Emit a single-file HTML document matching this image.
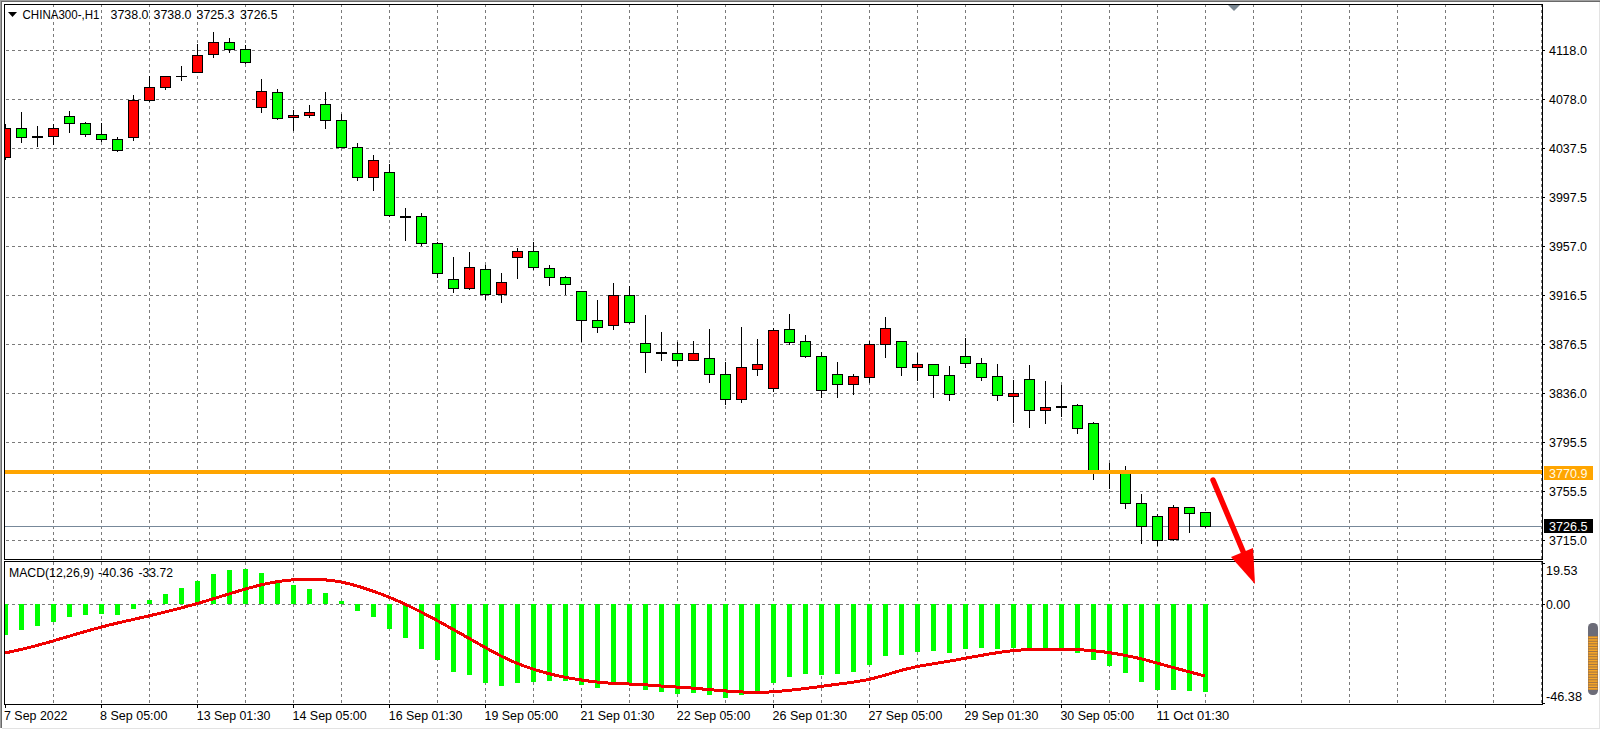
<!DOCTYPE html>
<html><head><meta charset="utf-8"><style>
html,body{margin:0;padding:0;background:#fff;}
body{width:1601px;height:730px;position:relative;overflow:hidden;font-family:"Liberation Sans", sans-serif;}
</style></head><body>
<svg width="1601" height="730" viewBox="0 0 1601 730" style="position:absolute;left:0;top:0">
<rect x="0" y="0" width="1601" height="730" fill="#ffffff"/>
<rect x="0" y="0" width="1600" height="1" fill="#a0a0a0"/>
<rect x="0" y="0" width="1" height="728" fill="#a0a0a0"/>
<rect x="1" y="1" width="1599" height="1" fill="#696969"/>
<rect x="1" y="1" width="1" height="727" fill="#696969"/>
<rect x="2" y="728" width="1598" height="1" fill="#e3e3e3"/>
<rect x="1599" y="2" width="1" height="727" fill="#e3e3e3"/>
<g shape-rendering="crispEdges">
<line x1="53.5" y1="4" x2="53.5" y2="559" stroke="#7a7a7a" stroke-dasharray="3 3"/>
<line x1="53.5" y1="562" x2="53.5" y2="703" stroke="#7a7a7a" stroke-dasharray="3 3"/>
<line x1="101.5" y1="4" x2="101.5" y2="559" stroke="#7a7a7a" stroke-dasharray="3 3"/>
<line x1="101.5" y1="562" x2="101.5" y2="703" stroke="#7a7a7a" stroke-dasharray="3 3"/>
<line x1="149.5" y1="4" x2="149.5" y2="559" stroke="#7a7a7a" stroke-dasharray="3 3"/>
<line x1="149.5" y1="562" x2="149.5" y2="703" stroke="#7a7a7a" stroke-dasharray="3 3"/>
<line x1="197.5" y1="4" x2="197.5" y2="559" stroke="#7a7a7a" stroke-dasharray="3 3"/>
<line x1="197.5" y1="562" x2="197.5" y2="703" stroke="#7a7a7a" stroke-dasharray="3 3"/>
<line x1="245.5" y1="4" x2="245.5" y2="559" stroke="#7a7a7a" stroke-dasharray="3 3"/>
<line x1="245.5" y1="562" x2="245.5" y2="703" stroke="#7a7a7a" stroke-dasharray="3 3"/>
<line x1="293.5" y1="4" x2="293.5" y2="559" stroke="#7a7a7a" stroke-dasharray="3 3"/>
<line x1="293.5" y1="562" x2="293.5" y2="703" stroke="#7a7a7a" stroke-dasharray="3 3"/>
<line x1="341.5" y1="4" x2="341.5" y2="559" stroke="#7a7a7a" stroke-dasharray="3 3"/>
<line x1="341.5" y1="562" x2="341.5" y2="703" stroke="#7a7a7a" stroke-dasharray="3 3"/>
<line x1="389.5" y1="4" x2="389.5" y2="559" stroke="#7a7a7a" stroke-dasharray="3 3"/>
<line x1="389.5" y1="562" x2="389.5" y2="703" stroke="#7a7a7a" stroke-dasharray="3 3"/>
<line x1="437.5" y1="4" x2="437.5" y2="559" stroke="#7a7a7a" stroke-dasharray="3 3"/>
<line x1="437.5" y1="562" x2="437.5" y2="703" stroke="#7a7a7a" stroke-dasharray="3 3"/>
<line x1="485.5" y1="4" x2="485.5" y2="559" stroke="#7a7a7a" stroke-dasharray="3 3"/>
<line x1="485.5" y1="562" x2="485.5" y2="703" stroke="#7a7a7a" stroke-dasharray="3 3"/>
<line x1="533.5" y1="4" x2="533.5" y2="559" stroke="#7a7a7a" stroke-dasharray="3 3"/>
<line x1="533.5" y1="562" x2="533.5" y2="703" stroke="#7a7a7a" stroke-dasharray="3 3"/>
<line x1="581.5" y1="4" x2="581.5" y2="559" stroke="#7a7a7a" stroke-dasharray="3 3"/>
<line x1="581.5" y1="562" x2="581.5" y2="703" stroke="#7a7a7a" stroke-dasharray="3 3"/>
<line x1="629.5" y1="4" x2="629.5" y2="559" stroke="#7a7a7a" stroke-dasharray="3 3"/>
<line x1="629.5" y1="562" x2="629.5" y2="703" stroke="#7a7a7a" stroke-dasharray="3 3"/>
<line x1="677.5" y1="4" x2="677.5" y2="559" stroke="#7a7a7a" stroke-dasharray="3 3"/>
<line x1="677.5" y1="562" x2="677.5" y2="703" stroke="#7a7a7a" stroke-dasharray="3 3"/>
<line x1="725.5" y1="4" x2="725.5" y2="559" stroke="#7a7a7a" stroke-dasharray="3 3"/>
<line x1="725.5" y1="562" x2="725.5" y2="703" stroke="#7a7a7a" stroke-dasharray="3 3"/>
<line x1="773.5" y1="4" x2="773.5" y2="559" stroke="#7a7a7a" stroke-dasharray="3 3"/>
<line x1="773.5" y1="562" x2="773.5" y2="703" stroke="#7a7a7a" stroke-dasharray="3 3"/>
<line x1="821.5" y1="4" x2="821.5" y2="559" stroke="#7a7a7a" stroke-dasharray="3 3"/>
<line x1="821.5" y1="562" x2="821.5" y2="703" stroke="#7a7a7a" stroke-dasharray="3 3"/>
<line x1="869.5" y1="4" x2="869.5" y2="559" stroke="#7a7a7a" stroke-dasharray="3 3"/>
<line x1="869.5" y1="562" x2="869.5" y2="703" stroke="#7a7a7a" stroke-dasharray="3 3"/>
<line x1="917.5" y1="4" x2="917.5" y2="559" stroke="#7a7a7a" stroke-dasharray="3 3"/>
<line x1="917.5" y1="562" x2="917.5" y2="703" stroke="#7a7a7a" stroke-dasharray="3 3"/>
<line x1="965.5" y1="4" x2="965.5" y2="559" stroke="#7a7a7a" stroke-dasharray="3 3"/>
<line x1="965.5" y1="562" x2="965.5" y2="703" stroke="#7a7a7a" stroke-dasharray="3 3"/>
<line x1="1013.5" y1="4" x2="1013.5" y2="559" stroke="#7a7a7a" stroke-dasharray="3 3"/>
<line x1="1013.5" y1="562" x2="1013.5" y2="703" stroke="#7a7a7a" stroke-dasharray="3 3"/>
<line x1="1061.5" y1="4" x2="1061.5" y2="559" stroke="#7a7a7a" stroke-dasharray="3 3"/>
<line x1="1061.5" y1="562" x2="1061.5" y2="703" stroke="#7a7a7a" stroke-dasharray="3 3"/>
<line x1="1109.5" y1="4" x2="1109.5" y2="559" stroke="#7a7a7a" stroke-dasharray="3 3"/>
<line x1="1109.5" y1="562" x2="1109.5" y2="703" stroke="#7a7a7a" stroke-dasharray="3 3"/>
<line x1="1157.5" y1="4" x2="1157.5" y2="559" stroke="#7a7a7a" stroke-dasharray="3 3"/>
<line x1="1157.5" y1="562" x2="1157.5" y2="703" stroke="#7a7a7a" stroke-dasharray="3 3"/>
<line x1="1205.5" y1="4" x2="1205.5" y2="559" stroke="#7a7a7a" stroke-dasharray="3 3"/>
<line x1="1205.5" y1="562" x2="1205.5" y2="703" stroke="#7a7a7a" stroke-dasharray="3 3"/>
<line x1="1253.5" y1="4" x2="1253.5" y2="559" stroke="#7a7a7a" stroke-dasharray="3 3"/>
<line x1="1253.5" y1="562" x2="1253.5" y2="703" stroke="#7a7a7a" stroke-dasharray="3 3"/>
<line x1="1301.5" y1="4" x2="1301.5" y2="559" stroke="#7a7a7a" stroke-dasharray="3 3"/>
<line x1="1301.5" y1="562" x2="1301.5" y2="703" stroke="#7a7a7a" stroke-dasharray="3 3"/>
<line x1="1349.5" y1="4" x2="1349.5" y2="559" stroke="#7a7a7a" stroke-dasharray="3 3"/>
<line x1="1349.5" y1="562" x2="1349.5" y2="703" stroke="#7a7a7a" stroke-dasharray="3 3"/>
<line x1="1397.5" y1="4" x2="1397.5" y2="559" stroke="#7a7a7a" stroke-dasharray="3 3"/>
<line x1="1397.5" y1="562" x2="1397.5" y2="703" stroke="#7a7a7a" stroke-dasharray="3 3"/>
<line x1="1445.5" y1="4" x2="1445.5" y2="559" stroke="#7a7a7a" stroke-dasharray="3 3"/>
<line x1="1445.5" y1="562" x2="1445.5" y2="703" stroke="#7a7a7a" stroke-dasharray="3 3"/>
<line x1="1493.5" y1="4" x2="1493.5" y2="559" stroke="#7a7a7a" stroke-dasharray="3 3"/>
<line x1="1493.5" y1="562" x2="1493.5" y2="703" stroke="#7a7a7a" stroke-dasharray="3 3"/>
<line x1="1541.5" y1="4" x2="1541.5" y2="559" stroke="#7a7a7a" stroke-dasharray="3 3"/>
<line x1="1541.5" y1="562" x2="1541.5" y2="703" stroke="#7a7a7a" stroke-dasharray="3 3"/>
<line x1="6" y1="50.5" x2="1542" y2="50.5" stroke="#7a7a7a" stroke-dasharray="3 3"/>
<line x1="6" y1="99.5" x2="1542" y2="99.5" stroke="#7a7a7a" stroke-dasharray="3 3"/>
<line x1="6" y1="148.5" x2="1542" y2="148.5" stroke="#7a7a7a" stroke-dasharray="3 3"/>
<line x1="6" y1="197.5" x2="1542" y2="197.5" stroke="#7a7a7a" stroke-dasharray="3 3"/>
<line x1="6" y1="246.5" x2="1542" y2="246.5" stroke="#7a7a7a" stroke-dasharray="3 3"/>
<line x1="6" y1="295.5" x2="1542" y2="295.5" stroke="#7a7a7a" stroke-dasharray="3 3"/>
<line x1="6" y1="344.5" x2="1542" y2="344.5" stroke="#7a7a7a" stroke-dasharray="3 3"/>
<line x1="6" y1="393.5" x2="1542" y2="393.5" stroke="#7a7a7a" stroke-dasharray="3 3"/>
<line x1="6" y1="442.5" x2="1542" y2="442.5" stroke="#7a7a7a" stroke-dasharray="3 3"/>
<line x1="6" y1="491.5" x2="1542" y2="491.5" stroke="#7a7a7a" stroke-dasharray="3 3"/>
<line x1="6" y1="540.5" x2="1542" y2="540.5" stroke="#7a7a7a" stroke-dasharray="3 3"/>
<line x1="6" y1="604.5" x2="1542" y2="604.5" stroke="#7a7a7a" stroke-dasharray="3 3"/>
<g>
<rect x="5" y="604" width="3" height="31" fill="#00ff00"/>
<rect x="19" y="604" width="5" height="26" fill="#00ff00"/>
<rect x="35" y="604" width="5" height="22" fill="#00ff00"/>
<rect x="51" y="604" width="5" height="18" fill="#00ff00"/>
<rect x="67" y="604" width="5" height="13" fill="#00ff00"/>
<rect x="83" y="604" width="5" height="11" fill="#00ff00"/>
<rect x="99" y="604" width="5" height="10" fill="#00ff00"/>
<rect x="115" y="604" width="5" height="11" fill="#00ff00"/>
<rect x="131" y="604" width="5" height="5" fill="#00ff00"/>
<rect x="147" y="600" width="5" height="4" fill="#00ff00"/>
<rect x="163" y="594" width="5" height="10" fill="#00ff00"/>
<rect x="179" y="588" width="5" height="16" fill="#00ff00"/>
<rect x="195" y="581" width="5" height="23" fill="#00ff00"/>
<rect x="211" y="574" width="5" height="30" fill="#00ff00"/>
<rect x="227" y="570" width="5" height="34" fill="#00ff00"/>
<rect x="243" y="569" width="5" height="35" fill="#00ff00"/>
<rect x="259" y="573" width="5" height="31" fill="#00ff00"/>
<rect x="275" y="582" width="5" height="22" fill="#00ff00"/>
<rect x="291" y="585" width="5" height="19" fill="#00ff00"/>
<rect x="307" y="589" width="5" height="15" fill="#00ff00"/>
<rect x="323" y="593" width="5" height="11" fill="#00ff00"/>
<rect x="339" y="601" width="5" height="3" fill="#00ff00"/>
<rect x="355" y="604" width="5" height="7" fill="#00ff00"/>
<rect x="371" y="604" width="5" height="13" fill="#00ff00"/>
<rect x="387" y="604" width="5" height="25" fill="#00ff00"/>
<rect x="403" y="604" width="5" height="34" fill="#00ff00"/>
<rect x="419" y="604" width="5" height="45" fill="#00ff00"/>
<rect x="435" y="604" width="5" height="56" fill="#00ff00"/>
<rect x="451" y="604" width="5" height="68" fill="#00ff00"/>
<rect x="467" y="604" width="5" height="71" fill="#00ff00"/>
<rect x="483" y="604" width="5" height="79" fill="#00ff00"/>
<rect x="499" y="604" width="5" height="82" fill="#00ff00"/>
<rect x="515" y="604" width="5" height="79" fill="#00ff00"/>
<rect x="531" y="604" width="5" height="78" fill="#00ff00"/>
<rect x="547" y="604" width="5" height="77" fill="#00ff00"/>
<rect x="563" y="604" width="5" height="77" fill="#00ff00"/>
<rect x="579" y="604" width="5" height="81" fill="#00ff00"/>
<rect x="595" y="604" width="5" height="84" fill="#00ff00"/>
<rect x="611" y="604" width="5" height="81" fill="#00ff00"/>
<rect x="627" y="604" width="5" height="81" fill="#00ff00"/>
<rect x="643" y="604" width="5" height="86" fill="#00ff00"/>
<rect x="659" y="604" width="5" height="88" fill="#00ff00"/>
<rect x="675" y="604" width="5" height="90" fill="#00ff00"/>
<rect x="691" y="604" width="5" height="89" fill="#00ff00"/>
<rect x="707" y="604" width="5" height="91" fill="#00ff00"/>
<rect x="723" y="604" width="5" height="94" fill="#00ff00"/>
<rect x="739" y="604" width="5" height="91" fill="#00ff00"/>
<rect x="755" y="604" width="5" height="87" fill="#00ff00"/>
<rect x="771" y="604" width="5" height="79" fill="#00ff00"/>
<rect x="787" y="604" width="5" height="73" fill="#00ff00"/>
<rect x="803" y="604" width="5" height="70" fill="#00ff00"/>
<rect x="819" y="604" width="5" height="71" fill="#00ff00"/>
<rect x="835" y="604" width="5" height="70" fill="#00ff00"/>
<rect x="851" y="604" width="5" height="68" fill="#00ff00"/>
<rect x="867" y="604" width="5" height="61" fill="#00ff00"/>
<rect x="883" y="604" width="5" height="52" fill="#00ff00"/>
<rect x="899" y="604" width="5" height="51" fill="#00ff00"/>
<rect x="915" y="604" width="5" height="48" fill="#00ff00"/>
<rect x="931" y="604" width="5" height="47" fill="#00ff00"/>
<rect x="947" y="604" width="5" height="49" fill="#00ff00"/>
<rect x="963" y="604" width="5" height="45" fill="#00ff00"/>
<rect x="979" y="604" width="5" height="44" fill="#00ff00"/>
<rect x="995" y="604" width="5" height="45" fill="#00ff00"/>
<rect x="1011" y="604" width="5" height="44" fill="#00ff00"/>
<rect x="1027" y="604" width="5" height="45" fill="#00ff00"/>
<rect x="1043" y="604" width="5" height="44" fill="#00ff00"/>
<rect x="1059" y="604" width="5" height="44" fill="#00ff00"/>
<rect x="1075" y="604" width="5" height="49" fill="#00ff00"/>
<rect x="1091" y="604" width="5" height="56" fill="#00ff00"/>
<rect x="1107" y="604" width="5" height="62" fill="#00ff00"/>
<rect x="1123" y="604" width="5" height="69" fill="#00ff00"/>
<rect x="1139" y="604" width="5" height="78" fill="#00ff00"/>
<rect x="1155" y="604" width="5" height="86" fill="#00ff00"/>
<rect x="1171" y="604" width="5" height="86" fill="#00ff00"/>
<rect x="1187" y="604" width="5" height="87" fill="#00ff00"/>
<rect x="1203" y="604" width="5" height="88" fill="#00ff00"/>
</g>
</g>
<path d="M5,653.00 C7.67,652.41 15.67,650.71 21,649.45 C26.33,648.19 31.67,646.87 37,645.45 C42.33,644.03 47.67,642.49 53,640.95 C58.33,639.41 63.67,637.79 69,636.23 C74.33,634.66 79.67,633.07 85,631.55 C90.33,630.03 95.67,628.53 101,627.12 C106.33,625.72 111.67,624.40 117,623.12 C122.33,621.85 127.67,620.71 133,619.50 C138.33,618.29 143.67,617.12 149,615.88 C154.33,614.62 159.67,613.32 165,612.00 C170.33,610.68 175.67,609.35 181,607.95 C186.33,606.55 191.67,605.12 197,603.60 C202.33,602.08 207.67,600.46 213,598.85 C218.33,597.24 223.67,595.57 229,593.95 C234.33,592.33 239.67,590.66 245,589.15 C250.33,587.64 255.67,586.14 261,584.90 C266.33,583.66 271.67,582.57 277,581.73 C282.33,580.88 287.67,580.26 293,579.85 C298.33,579.44 303.67,579.25 309,579.25 C314.33,579.25 319.67,579.39 325,579.85 C330.33,580.31 335.67,580.98 341,582.00 C346.33,583.02 351.67,584.42 357,585.95 C362.33,587.48 367.67,589.30 373,591.17 C378.33,593.05 383.67,595.04 389,597.20 C394.33,599.36 399.67,601.68 405,604.15 C410.33,606.62 415.67,609.30 421,612.02 C426.33,614.75 431.67,617.60 437,620.47 C442.33,623.35 447.67,626.32 453,629.30 C458.33,632.27 463.67,635.31 469,638.32 C474.33,641.34 479.67,644.43 485,647.38 C490.33,650.32 495.67,653.33 501,655.97 C506.33,658.62 511.67,661.07 517,663.25 C522.33,665.43 527.67,667.29 533,669.03 C538.33,670.76 543.67,672.28 549,673.65 C554.33,675.02 559.67,676.17 565,677.23 C570.33,678.28 575.67,679.15 581,679.95 C586.33,680.75 591.67,681.48 597,682.05 C602.33,682.62 607.67,683.03 613,683.35 C618.33,683.68 623.67,683.75 629,684.00 C634.33,684.25 639.67,684.49 645,684.82 C650.33,685.16 655.67,685.63 661,686.00 C666.33,686.37 671.67,686.69 677,687.05 C682.33,687.41 687.67,687.75 693,688.17 C698.33,688.60 703.67,689.15 709,689.60 C714.33,690.05 719.67,690.51 725,690.90 C730.33,691.29 735.67,691.67 741,691.92 C746.33,692.17 751.67,692.42 757,692.40 C762.33,692.38 767.67,692.12 773,691.78 C778.33,691.43 783.67,690.89 789,690.35 C794.33,689.81 799.67,689.20 805,688.55 C810.33,687.90 815.67,687.14 821,686.42 C826.33,685.71 831.67,684.98 837,684.27 C842.33,683.57 847.67,682.99 853,682.17 C858.33,681.36 863.67,680.55 869,679.38 C874.33,678.20 879.67,676.62 885,675.12 C890.33,673.62 895.67,671.79 901,670.38 C906.33,668.96 911.67,667.73 917,666.65 C922.33,665.57 927.67,664.80 933,663.90 C938.33,663.00 943.67,662.16 949,661.22 C954.33,660.29 959.67,659.27 965,658.30 C970.33,657.33 975.67,656.35 981,655.42 C986.33,654.50 991.67,653.56 997,652.78 C1002.33,651.99 1007.67,651.23 1013,650.70 C1018.33,650.17 1023.67,649.84 1029,649.58 C1034.33,649.31 1039.67,649.20 1045,649.12 C1050.33,649.05 1055.67,649.05 1061,649.12 C1066.33,649.20 1071.67,649.35 1077,649.60 C1082.33,649.85 1087.67,650.15 1093,650.65 C1098.33,651.15 1103.67,651.84 1109,652.62 C1114.33,653.41 1119.67,654.35 1125,655.38 C1130.33,656.40 1135.67,657.52 1141,658.80 C1146.33,660.08 1151.67,661.60 1157,663.05 C1162.33,664.50 1167.67,666.04 1173,667.50 C1178.33,668.96 1183.67,670.38 1189,671.80 C1194.33,673.22 1202.33,675.30 1205,676.00" fill="none" stroke="#f00000" stroke-width="3" shape-rendering="crispEdges"/>
<rect x="5" y="526" width="1537" height="1" fill="#778899"/>
<g shape-rendering="crispEdges">
<rect x="5" y="124" width="1" height="36" fill="#000000"/>
<rect x="5" y="128" width="6" height="30" fill="#000000"/>
<rect x="5" y="129" width="5" height="28" fill="#ff0000"/>
<rect x="21" y="112" width="1" height="31" fill="#000000"/>
<rect x="16" y="128" width="11" height="10" fill="#000000"/>
<rect x="17" y="129" width="9" height="8" fill="#00ff00"/>
<rect x="37" y="126" width="1" height="21" fill="#000000"/>
<rect x="32" y="136" width="11" height="2" fill="#000000"/>
<rect x="53" y="124" width="1" height="21" fill="#000000"/>
<rect x="48" y="128" width="11" height="9" fill="#000000"/>
<rect x="49" y="129" width="9" height="7" fill="#ff0000"/>
<rect x="69" y="111" width="1" height="22" fill="#000000"/>
<rect x="64" y="116" width="11" height="8" fill="#000000"/>
<rect x="65" y="117" width="9" height="6" fill="#00ff00"/>
<rect x="85" y="122" width="1" height="15" fill="#000000"/>
<rect x="80" y="123" width="11" height="12" fill="#000000"/>
<rect x="81" y="124" width="9" height="10" fill="#00ff00"/>
<rect x="101" y="123" width="1" height="19" fill="#000000"/>
<rect x="96" y="134" width="11" height="6" fill="#000000"/>
<rect x="97" y="135" width="9" height="4" fill="#00ff00"/>
<rect x="117" y="137" width="1" height="15" fill="#000000"/>
<rect x="112" y="139" width="11" height="12" fill="#000000"/>
<rect x="113" y="140" width="9" height="10" fill="#00ff00"/>
<rect x="133" y="95" width="1" height="46" fill="#000000"/>
<rect x="128" y="100" width="11" height="38" fill="#000000"/>
<rect x="129" y="101" width="9" height="36" fill="#ff0000"/>
<rect x="149" y="76" width="1" height="26" fill="#000000"/>
<rect x="144" y="87" width="11" height="14" fill="#000000"/>
<rect x="145" y="88" width="9" height="12" fill="#ff0000"/>
<rect x="165" y="76" width="1" height="14" fill="#000000"/>
<rect x="160" y="76" width="11" height="12" fill="#000000"/>
<rect x="161" y="77" width="9" height="10" fill="#ff0000"/>
<rect x="181" y="66" width="1" height="15" fill="#000000"/>
<rect x="176" y="76" width="11" height="1" fill="#000000"/>
<rect x="197" y="44" width="1" height="29" fill="#000000"/>
<rect x="192" y="55" width="11" height="18" fill="#000000"/>
<rect x="193" y="56" width="9" height="16" fill="#ff0000"/>
<rect x="213" y="32" width="1" height="26" fill="#000000"/>
<rect x="208" y="42" width="11" height="13" fill="#000000"/>
<rect x="209" y="43" width="9" height="11" fill="#ff0000"/>
<rect x="229" y="38" width="1" height="15" fill="#000000"/>
<rect x="224" y="42" width="11" height="8" fill="#000000"/>
<rect x="225" y="43" width="9" height="6" fill="#00ff00"/>
<rect x="245" y="45" width="1" height="19" fill="#000000"/>
<rect x="240" y="49" width="11" height="14" fill="#000000"/>
<rect x="241" y="50" width="9" height="12" fill="#00ff00"/>
<rect x="261" y="79" width="1" height="34" fill="#000000"/>
<rect x="256" y="91" width="11" height="17" fill="#000000"/>
<rect x="257" y="92" width="9" height="15" fill="#ff0000"/>
<rect x="277" y="89" width="1" height="31" fill="#000000"/>
<rect x="272" y="92" width="11" height="27" fill="#000000"/>
<rect x="273" y="93" width="9" height="25" fill="#00ff00"/>
<rect x="293" y="110" width="1" height="21" fill="#000000"/>
<rect x="288" y="115" width="11" height="3" fill="#000000"/>
<rect x="289" y="116" width="9" height="1" fill="#ff0000"/>
<rect x="309" y="105" width="1" height="13" fill="#000000"/>
<rect x="304" y="112" width="11" height="4" fill="#000000"/>
<rect x="305" y="113" width="9" height="2" fill="#ff0000"/>
<rect x="325" y="92" width="1" height="37" fill="#000000"/>
<rect x="320" y="104" width="11" height="17" fill="#000000"/>
<rect x="321" y="105" width="9" height="15" fill="#00ff00"/>
<rect x="341" y="114" width="1" height="34" fill="#000000"/>
<rect x="336" y="120" width="11" height="28" fill="#000000"/>
<rect x="337" y="121" width="9" height="26" fill="#00ff00"/>
<rect x="357" y="143" width="1" height="38" fill="#000000"/>
<rect x="352" y="147" width="11" height="31" fill="#000000"/>
<rect x="353" y="148" width="9" height="29" fill="#00ff00"/>
<rect x="373" y="155" width="1" height="36" fill="#000000"/>
<rect x="368" y="160" width="11" height="18" fill="#000000"/>
<rect x="369" y="161" width="9" height="16" fill="#ff0000"/>
<rect x="389" y="164" width="1" height="53" fill="#000000"/>
<rect x="384" y="172" width="11" height="44" fill="#000000"/>
<rect x="385" y="173" width="9" height="42" fill="#00ff00"/>
<rect x="405" y="208" width="1" height="33" fill="#000000"/>
<rect x="400" y="216" width="11" height="2" fill="#000000"/>
<rect x="421" y="213" width="1" height="33" fill="#000000"/>
<rect x="416" y="216" width="11" height="28" fill="#000000"/>
<rect x="417" y="217" width="9" height="26" fill="#00ff00"/>
<rect x="437" y="242" width="1" height="36" fill="#000000"/>
<rect x="432" y="243" width="11" height="31" fill="#000000"/>
<rect x="433" y="244" width="9" height="29" fill="#00ff00"/>
<rect x="453" y="257" width="1" height="36" fill="#000000"/>
<rect x="448" y="279" width="11" height="10" fill="#000000"/>
<rect x="449" y="280" width="9" height="8" fill="#00ff00"/>
<rect x="469" y="252" width="1" height="38" fill="#000000"/>
<rect x="464" y="267" width="11" height="22" fill="#000000"/>
<rect x="465" y="268" width="9" height="20" fill="#ff0000"/>
<rect x="485" y="265" width="1" height="35" fill="#000000"/>
<rect x="480" y="269" width="11" height="26" fill="#000000"/>
<rect x="481" y="270" width="9" height="24" fill="#00ff00"/>
<rect x="501" y="273" width="1" height="30" fill="#000000"/>
<rect x="496" y="282" width="11" height="13" fill="#000000"/>
<rect x="497" y="283" width="9" height="11" fill="#ff0000"/>
<rect x="517" y="248" width="1" height="31" fill="#000000"/>
<rect x="512" y="251" width="11" height="7" fill="#000000"/>
<rect x="513" y="252" width="9" height="5" fill="#ff0000"/>
<rect x="533" y="242" width="1" height="28" fill="#000000"/>
<rect x="528" y="251" width="11" height="17" fill="#000000"/>
<rect x="529" y="252" width="9" height="15" fill="#00ff00"/>
<rect x="549" y="265" width="1" height="21" fill="#000000"/>
<rect x="544" y="268" width="11" height="10" fill="#000000"/>
<rect x="545" y="269" width="9" height="8" fill="#00ff00"/>
<rect x="565" y="276" width="1" height="19" fill="#000000"/>
<rect x="560" y="277" width="11" height="8" fill="#000000"/>
<rect x="561" y="278" width="9" height="6" fill="#00ff00"/>
<rect x="581" y="291" width="1" height="51" fill="#000000"/>
<rect x="576" y="291" width="11" height="30" fill="#000000"/>
<rect x="577" y="292" width="9" height="28" fill="#00ff00"/>
<rect x="597" y="300" width="1" height="33" fill="#000000"/>
<rect x="592" y="320" width="11" height="8" fill="#000000"/>
<rect x="593" y="321" width="9" height="6" fill="#00ff00"/>
<rect x="613" y="283" width="1" height="47" fill="#000000"/>
<rect x="608" y="295" width="11" height="31" fill="#000000"/>
<rect x="609" y="296" width="9" height="29" fill="#ff0000"/>
<rect x="629" y="286" width="1" height="38" fill="#000000"/>
<rect x="624" y="295" width="11" height="28" fill="#000000"/>
<rect x="625" y="296" width="9" height="26" fill="#00ff00"/>
<rect x="645" y="315" width="1" height="58" fill="#000000"/>
<rect x="640" y="343" width="11" height="10" fill="#000000"/>
<rect x="641" y="344" width="9" height="8" fill="#00ff00"/>
<rect x="661" y="332" width="1" height="29" fill="#000000"/>
<rect x="656" y="352" width="11" height="2" fill="#000000"/>
<rect x="677" y="342" width="1" height="24" fill="#000000"/>
<rect x="672" y="353" width="11" height="8" fill="#000000"/>
<rect x="673" y="354" width="9" height="6" fill="#00ff00"/>
<rect x="693" y="341" width="1" height="20" fill="#000000"/>
<rect x="688" y="353" width="11" height="8" fill="#000000"/>
<rect x="689" y="354" width="9" height="6" fill="#ff0000"/>
<rect x="709" y="329" width="1" height="54" fill="#000000"/>
<rect x="704" y="358" width="11" height="17" fill="#000000"/>
<rect x="705" y="359" width="9" height="15" fill="#00ff00"/>
<rect x="725" y="362" width="1" height="43" fill="#000000"/>
<rect x="720" y="374" width="11" height="26" fill="#000000"/>
<rect x="721" y="375" width="9" height="24" fill="#00ff00"/>
<rect x="741" y="327" width="1" height="76" fill="#000000"/>
<rect x="736" y="367" width="11" height="33" fill="#000000"/>
<rect x="737" y="368" width="9" height="31" fill="#ff0000"/>
<rect x="757" y="339" width="1" height="37" fill="#000000"/>
<rect x="752" y="364" width="11" height="6" fill="#000000"/>
<rect x="753" y="365" width="9" height="4" fill="#ff0000"/>
<rect x="773" y="328" width="1" height="64" fill="#000000"/>
<rect x="768" y="330" width="11" height="59" fill="#000000"/>
<rect x="769" y="331" width="9" height="57" fill="#ff0000"/>
<rect x="789" y="314" width="1" height="31" fill="#000000"/>
<rect x="784" y="329" width="11" height="14" fill="#000000"/>
<rect x="785" y="330" width="9" height="12" fill="#00ff00"/>
<rect x="805" y="335" width="1" height="23" fill="#000000"/>
<rect x="800" y="341" width="11" height="16" fill="#000000"/>
<rect x="801" y="342" width="9" height="14" fill="#00ff00"/>
<rect x="821" y="352" width="1" height="46" fill="#000000"/>
<rect x="816" y="356" width="11" height="35" fill="#000000"/>
<rect x="817" y="357" width="9" height="33" fill="#00ff00"/>
<rect x="837" y="362" width="1" height="36" fill="#000000"/>
<rect x="832" y="374" width="11" height="11" fill="#000000"/>
<rect x="833" y="375" width="9" height="9" fill="#00ff00"/>
<rect x="853" y="374" width="1" height="21" fill="#000000"/>
<rect x="848" y="376" width="11" height="9" fill="#000000"/>
<rect x="849" y="377" width="9" height="7" fill="#ff0000"/>
<rect x="869" y="341" width="1" height="42" fill="#000000"/>
<rect x="864" y="344" width="11" height="34" fill="#000000"/>
<rect x="865" y="345" width="9" height="32" fill="#ff0000"/>
<rect x="885" y="317" width="1" height="41" fill="#000000"/>
<rect x="880" y="328" width="11" height="17" fill="#000000"/>
<rect x="881" y="329" width="9" height="15" fill="#ff0000"/>
<rect x="901" y="341" width="1" height="35" fill="#000000"/>
<rect x="896" y="341" width="11" height="27" fill="#000000"/>
<rect x="897" y="342" width="9" height="25" fill="#00ff00"/>
<rect x="917" y="353" width="1" height="28" fill="#000000"/>
<rect x="912" y="364" width="11" height="4" fill="#000000"/>
<rect x="913" y="365" width="9" height="2" fill="#ff0000"/>
<rect x="933" y="364" width="1" height="34" fill="#000000"/>
<rect x="928" y="364" width="11" height="12" fill="#000000"/>
<rect x="929" y="365" width="9" height="10" fill="#00ff00"/>
<rect x="949" y="366" width="1" height="35" fill="#000000"/>
<rect x="944" y="375" width="11" height="20" fill="#000000"/>
<rect x="945" y="376" width="9" height="18" fill="#00ff00"/>
<rect x="965" y="338" width="1" height="30" fill="#000000"/>
<rect x="960" y="356" width="11" height="8" fill="#000000"/>
<rect x="961" y="357" width="9" height="6" fill="#00ff00"/>
<rect x="981" y="358" width="1" height="23" fill="#000000"/>
<rect x="976" y="363" width="11" height="15" fill="#000000"/>
<rect x="977" y="364" width="9" height="13" fill="#00ff00"/>
<rect x="997" y="364" width="1" height="37" fill="#000000"/>
<rect x="992" y="376" width="11" height="20" fill="#000000"/>
<rect x="993" y="377" width="9" height="18" fill="#00ff00"/>
<rect x="1013" y="380" width="1" height="43" fill="#000000"/>
<rect x="1008" y="393" width="11" height="4" fill="#000000"/>
<rect x="1009" y="394" width="9" height="2" fill="#ff0000"/>
<rect x="1029" y="365" width="1" height="63" fill="#000000"/>
<rect x="1024" y="379" width="11" height="32" fill="#000000"/>
<rect x="1025" y="380" width="9" height="30" fill="#00ff00"/>
<rect x="1045" y="381" width="1" height="43" fill="#000000"/>
<rect x="1040" y="407" width="11" height="4" fill="#000000"/>
<rect x="1041" y="408" width="9" height="2" fill="#ff0000"/>
<rect x="1061" y="385" width="1" height="32" fill="#000000"/>
<rect x="1056" y="406" width="11" height="2" fill="#000000"/>
<rect x="1077" y="404" width="1" height="30" fill="#000000"/>
<rect x="1072" y="405" width="11" height="24" fill="#000000"/>
<rect x="1073" y="406" width="9" height="22" fill="#00ff00"/>
<rect x="1093" y="422" width="1" height="58" fill="#000000"/>
<rect x="1088" y="423" width="11" height="48" fill="#000000"/>
<rect x="1089" y="424" width="9" height="46" fill="#00ff00"/>
<rect x="1109" y="463" width="1" height="26" fill="#000000"/>
<rect x="1104" y="471" width="11" height="1" fill="#000000"/>
<rect x="1125" y="466" width="1" height="43" fill="#000000"/>
<rect x="1120" y="473" width="11" height="31" fill="#000000"/>
<rect x="1121" y="474" width="9" height="29" fill="#00ff00"/>
<rect x="1141" y="494" width="1" height="50" fill="#000000"/>
<rect x="1136" y="503" width="11" height="24" fill="#000000"/>
<rect x="1137" y="504" width="9" height="22" fill="#00ff00"/>
<rect x="1157" y="514" width="1" height="32" fill="#000000"/>
<rect x="1152" y="516" width="11" height="25" fill="#000000"/>
<rect x="1153" y="517" width="9" height="23" fill="#00ff00"/>
<rect x="1173" y="505" width="1" height="36" fill="#000000"/>
<rect x="1168" y="507" width="11" height="33" fill="#000000"/>
<rect x="1169" y="508" width="9" height="31" fill="#ff0000"/>
<rect x="1189" y="507" width="1" height="26" fill="#000000"/>
<rect x="1184" y="507" width="11" height="7" fill="#000000"/>
<rect x="1185" y="508" width="9" height="5" fill="#00ff00"/>
<rect x="1205" y="512" width="1" height="16" fill="#000000"/>
<rect x="1200" y="512" width="11" height="15" fill="#000000"/>
<rect x="1201" y="513" width="9" height="13" fill="#00ff00"/>
</g>
<rect x="5" y="470" width="1537" height="4" fill="#ffa500"/>
<g shape-rendering="crispEdges">
<rect x="4" y="4" width="1539" height="1" fill="#000"/>
<rect x="4" y="4" width="1" height="556" fill="#000"/>
<rect x="1542" y="4" width="1" height="556" fill="#000"/>
<rect x="4" y="559" width="1539" height="1" fill="#000"/>
<rect x="4" y="561" width="1539" height="1" fill="#000"/>
<rect x="4" y="561" width="1" height="143" fill="#000"/>
<rect x="1542" y="561" width="1" height="143" fill="#000"/>
<rect x="4" y="704" width="1539" height="1" fill="#000"/>
<rect x="1543" y="50" width="2" height="1" fill="#000"/>
<rect x="1543" y="99" width="2" height="1" fill="#000"/>
<rect x="1543" y="148" width="2" height="1" fill="#000"/>
<rect x="1543" y="197" width="2" height="1" fill="#000"/>
<rect x="1543" y="246" width="2" height="1" fill="#000"/>
<rect x="1543" y="295" width="2" height="1" fill="#000"/>
<rect x="1543" y="344" width="2" height="1" fill="#000"/>
<rect x="1543" y="393" width="2" height="1" fill="#000"/>
<rect x="1543" y="442" width="2" height="1" fill="#000"/>
<rect x="1543" y="491" width="2" height="1" fill="#000"/>
<rect x="1543" y="540" width="2" height="1" fill="#000"/>
<rect x="1543" y="563" width="2" height="1" fill="#000"/>
<rect x="1543" y="604" width="2" height="1" fill="#000"/>
<rect x="1543" y="703" width="2" height="1" fill="#000"/>
<rect x="5" y="705" width="1" height="3" fill="#000"/>
<rect x="101" y="705" width="1" height="3" fill="#000"/>
<rect x="197" y="705" width="1" height="3" fill="#000"/>
<rect x="293" y="705" width="1" height="3" fill="#000"/>
<rect x="389" y="705" width="1" height="3" fill="#000"/>
<rect x="485" y="705" width="1" height="3" fill="#000"/>
<rect x="581" y="705" width="1" height="3" fill="#000"/>
<rect x="677" y="705" width="1" height="3" fill="#000"/>
<rect x="773" y="705" width="1" height="3" fill="#000"/>
<rect x="869" y="705" width="1" height="3" fill="#000"/>
<rect x="965" y="705" width="1" height="3" fill="#000"/>
<rect x="1061" y="705" width="1" height="3" fill="#000"/>
<rect x="1157" y="705" width="1" height="3" fill="#000"/>
</g>
<polygon points="1228,5 1240,5 1234,11" fill="#7a8792"/>
<line x1="1213" y1="480" x2="1245" y2="556" stroke="#ff0000" stroke-width="5.5" stroke-linecap="round"/>
<polygon points="1231,557 1253,548 1255,584" fill="#ff0000"/>
<polygon points="8,12 17,12 12.5,17" fill="#000"/>
<text x="22.5" y="19" font-family='"Liberation Sans", sans-serif' font-size="12" fill="#000" textLength="77" lengthAdjust="spacingAndGlyphs">CHINA300-,H1</text>
<text x="110.5" y="19" font-family='"Liberation Sans", sans-serif' font-size="12" fill="#000" textLength="38" lengthAdjust="spacingAndGlyphs">3738.0</text>
<text x="153.5" y="19" font-family='"Liberation Sans", sans-serif' font-size="12" fill="#000" textLength="38" lengthAdjust="spacingAndGlyphs">3738.0</text>
<text x="196.5" y="19" font-family='"Liberation Sans", sans-serif' font-size="12" fill="#000" textLength="38" lengthAdjust="spacingAndGlyphs">3725.3</text>
<text x="240" y="19" font-family='"Liberation Sans", sans-serif' font-size="12" fill="#000" textLength="37.5" lengthAdjust="spacingAndGlyphs">3726.5</text>
<text x="1549" y="54.5" font-family='"Liberation Sans", sans-serif' font-size="12" fill="#000" textLength="38" lengthAdjust="spacingAndGlyphs">4118.0</text>
<text x="1549" y="103.5" font-family='"Liberation Sans", sans-serif' font-size="12" fill="#000" textLength="38" lengthAdjust="spacingAndGlyphs">4078.0</text>
<text x="1549" y="152.5" font-family='"Liberation Sans", sans-serif' font-size="12" fill="#000" textLength="38" lengthAdjust="spacingAndGlyphs">4037.5</text>
<text x="1549" y="201.5" font-family='"Liberation Sans", sans-serif' font-size="12" fill="#000" textLength="38" lengthAdjust="spacingAndGlyphs">3997.5</text>
<text x="1549" y="250.5" font-family='"Liberation Sans", sans-serif' font-size="12" fill="#000" textLength="38" lengthAdjust="spacingAndGlyphs">3957.0</text>
<text x="1549" y="299.5" font-family='"Liberation Sans", sans-serif' font-size="12" fill="#000" textLength="38" lengthAdjust="spacingAndGlyphs">3916.5</text>
<text x="1549" y="348.5" font-family='"Liberation Sans", sans-serif' font-size="12" fill="#000" textLength="38" lengthAdjust="spacingAndGlyphs">3876.5</text>
<text x="1549" y="397.5" font-family='"Liberation Sans", sans-serif' font-size="12" fill="#000" textLength="38" lengthAdjust="spacingAndGlyphs">3836.0</text>
<text x="1549" y="446.5" font-family='"Liberation Sans", sans-serif' font-size="12" fill="#000" textLength="38" lengthAdjust="spacingAndGlyphs">3795.5</text>
<text x="1549" y="495.5" font-family='"Liberation Sans", sans-serif' font-size="12" fill="#000" textLength="38" lengthAdjust="spacingAndGlyphs">3755.5</text>
<text x="1549" y="544.5" font-family='"Liberation Sans", sans-serif' font-size="12" fill="#000" textLength="38" lengthAdjust="spacingAndGlyphs">3715.0</text>
<rect x="1544" y="466" width="49" height="14" fill="#ffa500"/>
<text x="1549" y="477.5" font-family='"Liberation Sans", sans-serif' font-size="12" fill="#fffbe8" textLength="38.5" lengthAdjust="spacingAndGlyphs">3770.9</text>
<rect x="1544" y="519" width="49" height="14" fill="#000000"/>
<text x="1549" y="530.5" font-family='"Liberation Sans", sans-serif' font-size="12" fill="#ffffff" textLength="38.5" lengthAdjust="spacingAndGlyphs">3726.5</text>
<text x="9" y="577" font-family='"Liberation Sans", sans-serif' font-size="12" fill="#000" textLength="85" lengthAdjust="spacingAndGlyphs">MACD(12,26,9)</text>
<text x="98" y="577" font-family='"Liberation Sans", sans-serif' font-size="12" fill="#000" textLength="35.5" lengthAdjust="spacingAndGlyphs">-40.36</text>
<text x="138.5" y="577" font-family='"Liberation Sans", sans-serif' font-size="12" fill="#000" textLength="34.5" lengthAdjust="spacingAndGlyphs">-33.72</text>
<text x="1546" y="574.5" font-family='"Liberation Sans", sans-serif' font-size="12" fill="#000" textLength="31.5" lengthAdjust="spacingAndGlyphs">19.53</text>
<text x="1546" y="608.5" font-family='"Liberation Sans", sans-serif' font-size="12" fill="#000" textLength="24" lengthAdjust="spacingAndGlyphs">0.00</text>
<text x="1546" y="700.5" font-family='"Liberation Sans", sans-serif' font-size="12" fill="#000" textLength="36" lengthAdjust="spacingAndGlyphs">-46.38</text>
<text x="4" y="720" font-family='"Liberation Sans", sans-serif' font-size="12" fill="#000" textLength="63.5" lengthAdjust="spacingAndGlyphs">7 Sep 2022</text>
<text x="100" y="720" font-family='"Liberation Sans", sans-serif' font-size="12" fill="#000" textLength="67.5" lengthAdjust="spacingAndGlyphs">8 Sep 05:00</text>
<text x="196.75" y="720" font-family='"Liberation Sans", sans-serif' font-size="12" fill="#000" textLength="73.75" lengthAdjust="spacingAndGlyphs">13 Sep 01:30</text>
<text x="292.5" y="720" font-family='"Liberation Sans", sans-serif' font-size="12" fill="#000" textLength="74.25" lengthAdjust="spacingAndGlyphs">14 Sep 05:00</text>
<text x="388.75" y="720" font-family='"Liberation Sans", sans-serif' font-size="12" fill="#000" textLength="73.75" lengthAdjust="spacingAndGlyphs">16 Sep 01:30</text>
<text x="484.5" y="720" font-family='"Liberation Sans", sans-serif' font-size="12" fill="#000" textLength="73.75" lengthAdjust="spacingAndGlyphs">19 Sep 05:00</text>
<text x="580.5" y="720" font-family='"Liberation Sans", sans-serif' font-size="12" fill="#000" textLength="74" lengthAdjust="spacingAndGlyphs">21 Sep 01:30</text>
<text x="676.75" y="720" font-family='"Liberation Sans", sans-serif' font-size="12" fill="#000" textLength="73.75" lengthAdjust="spacingAndGlyphs">22 Sep 05:00</text>
<text x="772.6" y="720" font-family='"Liberation Sans", sans-serif' font-size="12" fill="#000" textLength="74.4" lengthAdjust="spacingAndGlyphs">26 Sep 01:30</text>
<text x="868.5" y="720" font-family='"Liberation Sans", sans-serif' font-size="12" fill="#000" textLength="73.8" lengthAdjust="spacingAndGlyphs">27 Sep 05:00</text>
<text x="964.5" y="720" font-family='"Liberation Sans", sans-serif' font-size="12" fill="#000" textLength="73.8" lengthAdjust="spacingAndGlyphs">29 Sep 01:30</text>
<text x="1060.4" y="720" font-family='"Liberation Sans", sans-serif' font-size="12" fill="#000" textLength="73.8" lengthAdjust="spacingAndGlyphs">30 Sep 05:00</text>
<text x="1156.4" y="720" font-family='"Liberation Sans", sans-serif' font-size="12" fill="#000" textLength="72.9" lengthAdjust="spacingAndGlyphs">11 Oct 01:30</text>
<g>
<rect x="1588" y="623" width="10" height="72" rx="4.5" fill="#6c6c78"/>
<rect x="1588" y="636" width="10" height="54" fill="#9a7048"/>
<rect x="1588.5" y="636.60" width="9" height="1.6" fill="#f6a628"/>
<rect x="1588.5" y="639.17" width="9" height="1.6" fill="#f6a628"/>
<rect x="1588.5" y="641.74" width="9" height="1.6" fill="#f6a628"/>
<rect x="1588.5" y="644.31" width="9" height="1.6" fill="#f6a628"/>
<rect x="1588.5" y="646.88" width="9" height="1.6" fill="#f6a628"/>
<rect x="1588.5" y="649.45" width="9" height="1.6" fill="#f6a628"/>
<rect x="1588.5" y="652.02" width="9" height="1.6" fill="#f6a628"/>
<rect x="1588.5" y="654.59" width="9" height="1.6" fill="#f6a628"/>
<rect x="1588.5" y="657.16" width="9" height="1.6" fill="#f6a628"/>
<rect x="1588.5" y="659.73" width="9" height="1.6" fill="#f6a628"/>
<rect x="1588.5" y="662.30" width="9" height="1.6" fill="#f6a628"/>
<rect x="1588.5" y="664.87" width="9" height="1.6" fill="#f6a628"/>
<rect x="1588.5" y="667.44" width="9" height="1.6" fill="#f6a628"/>
<rect x="1588.5" y="670.01" width="9" height="1.6" fill="#f6a628"/>
<rect x="1588.5" y="672.58" width="9" height="1.6" fill="#f6a628"/>
<rect x="1588.5" y="675.15" width="9" height="1.6" fill="#f6a628"/>
<rect x="1588.5" y="677.72" width="9" height="1.6" fill="#f6a628"/>
<rect x="1588.5" y="680.29" width="9" height="1.6" fill="#f6a628"/>
<rect x="1588.5" y="682.86" width="9" height="1.6" fill="#f6a628"/>
<rect x="1588.5" y="685.43" width="9" height="1.6" fill="#f6a628"/>
<rect x="1588.5" y="688.00" width="9" height="1.6" fill="#f6a628"/>
</g>
</svg>
</body></html>
